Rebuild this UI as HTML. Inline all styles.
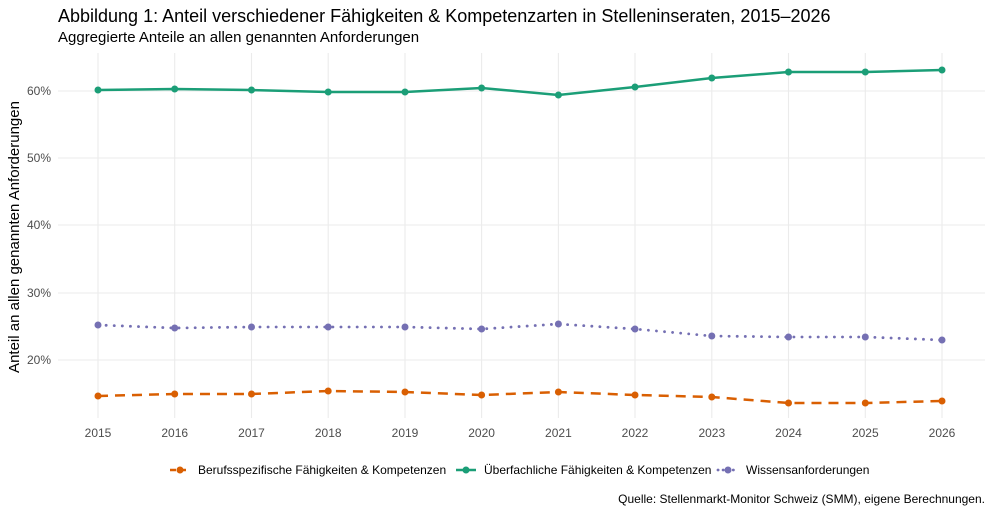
<!DOCTYPE html>
<html><head><meta charset="utf-8"><style>
body{margin:0;background:#fff;font-family:"Liberation Sans",sans-serif;}
</style></head><body>
<svg width="992" height="514" xmlns="http://www.w3.org/2000/svg" font-family="Liberation Sans, sans-serif">
<rect width="992" height="514" fill="#fff"/>
<text x="58" y="22" font-size="18" fill="#000">Abbildung 1: Anteil verschiedener Fähigkeiten &amp; Kompetenzarten in Stelleninseraten, 2015–2026</text>
<text x="58" y="42" font-size="15" fill="#000">Aggregierte Anteile an allen genannten Anforderungen</text>
<g stroke="#ebebeb" stroke-width="1.1">
<line x1="58" x2="985" y1="91" y2="91"/><line x1="58" x2="985" y1="158" y2="158"/>
<line x1="58" x2="985" y1="225" y2="225"/><line x1="58" x2="985" y1="293" y2="293"/>
<line x1="58" x2="985" y1="360" y2="360"/>
<line x1="98" x2="98" y1="53" y2="418"/><line x1="174.7" x2="174.7" y1="53" y2="418"/>
<line x1="251.5" x2="251.5" y1="53" y2="418"/><line x1="328.2" x2="328.2" y1="53" y2="418"/>
<line x1="405" x2="405" y1="53" y2="418"/><line x1="481.6" x2="481.6" y1="53" y2="418"/>
<line x1="558.4" x2="558.4" y1="53" y2="418"/><line x1="635" x2="635" y1="53" y2="418"/>
<line x1="711.8" x2="711.8" y1="53" y2="418"/><line x1="788.5" x2="788.5" y1="53" y2="418"/>
<line x1="865.3" x2="865.3" y1="53" y2="418"/><line x1="942" x2="942" y1="53" y2="418"/>
</g>
<g font-size="12" fill="#4d4d4d" text-anchor="end">
<text x="51" y="95">60%</text><text x="51" y="162">50%</text><text x="51" y="229">40%</text><text x="51" y="297">30%</text><text x="51" y="364">20%</text>
</g>
<g font-size="12" fill="#4d4d4d" text-anchor="middle">
<text x="98" y="437">2015</text><text x="174.7" y="437">2016</text><text x="251.5" y="437">2017</text><text x="328.2" y="437">2018</text><text x="405" y="437">2019</text><text x="481.6" y="437">2020</text><text x="558.4" y="437">2021</text><text x="635" y="437">2022</text><text x="711.8" y="437">2023</text><text x="788.5" y="437">2024</text><text x="865.3" y="437">2025</text><text x="942" y="437">2026</text>
</g>
<text transform="translate(19,237) rotate(-90)" font-size="15" text-anchor="middle" fill="#000">Anteil an allen genannten Anforderungen</text>
<polyline fill="none" stroke="#1b9e77" stroke-width="2.5" points="98,90 174.7,89 251.5,90 328.2,92 405,92 481.6,88 558.4,95 635,87 711.8,78 788.5,72 865.3,72 942,70"/>
<polyline fill="none" stroke="#7570b3" stroke-width="2.8" stroke-dasharray="0.1,8" stroke-linecap="round" points="98,325 174.7,328 251.5,327 328.2,327 405,327 481.6,329 558.4,324 635,329 711.8,336 788.5,337 865.3,337 942,340"/>
<polyline fill="none" stroke="#d95f02" stroke-width="2.5" stroke-dasharray="10,7" points="98,396 174.7,394 251.5,394 328.2,391 405,392 481.6,395 558.4,392 635,395 711.8,397 788.5,403 865.3,403 942,401"/>
<g fill="#1b9e77"><circle cx="98" cy="90" r="3.5"/><circle cx="174.7" cy="89" r="3.5"/><circle cx="251.5" cy="90" r="3.5"/><circle cx="328.2" cy="92" r="3.5"/><circle cx="405" cy="92" r="3.5"/><circle cx="481.6" cy="88" r="3.5"/><circle cx="558.4" cy="95" r="3.5"/><circle cx="635" cy="87" r="3.5"/><circle cx="711.8" cy="78" r="3.5"/><circle cx="788.5" cy="72" r="3.5"/><circle cx="865.3" cy="72" r="3.5"/><circle cx="942" cy="70" r="3.5"/></g>
<g fill="#7570b3"><circle cx="98" cy="325" r="3.5"/><circle cx="174.7" cy="328" r="3.5"/><circle cx="251.5" cy="327" r="3.5"/><circle cx="328.2" cy="327" r="3.5"/><circle cx="405" cy="327" r="3.5"/><circle cx="481.6" cy="329" r="3.5"/><circle cx="558.4" cy="324" r="3.5"/><circle cx="635" cy="329" r="3.5"/><circle cx="711.8" cy="336" r="3.5"/><circle cx="788.5" cy="337" r="3.5"/><circle cx="865.3" cy="337" r="3.5"/><circle cx="942" cy="340" r="3.5"/></g>
<g fill="#d95f02"><circle cx="98" cy="396" r="3.5"/><circle cx="174.7" cy="394" r="3.5"/><circle cx="251.5" cy="394" r="3.5"/><circle cx="328.2" cy="391" r="3.5"/><circle cx="405" cy="392" r="3.5"/><circle cx="481.6" cy="395" r="3.5"/><circle cx="558.4" cy="392" r="3.5"/><circle cx="635" cy="395" r="3.5"/><circle cx="711.8" cy="397" r="3.5"/><circle cx="788.5" cy="403" r="3.5"/><circle cx="865.3" cy="403" r="3.5"/><circle cx="942" cy="401" r="3.5"/></g>
<g font-size="12" fill="#000">
<line x1="170" x2="190" y1="470" y2="470" stroke="#d95f02" stroke-width="2.5" stroke-dasharray="6,4"/><circle cx="180" cy="470" r="3.5" fill="#d95f02"/>
<text x="198" y="474">Berufsspezifische Fähigkeiten &amp; Kompetenzen</text>
<line x1="456" x2="476" y1="470" y2="470" stroke="#1b9e77" stroke-width="2.5"/><circle cx="466" cy="470" r="3.5" fill="#1b9e77"/>
<text x="484" y="474">Überfachliche Fähigkeiten &amp; Kompetenzen</text>
<line x1="718" x2="738" y1="470" y2="470" stroke="#7570b3" stroke-width="2.8" stroke-dasharray="0.1,5" stroke-linecap="round"/><circle cx="728" cy="470" r="3.5" fill="#7570b3"/>
<text x="746" y="474">Wissensanforderungen</text>
</g>
<text x="985" y="503" font-size="12" text-anchor="end" fill="#000">Quelle: Stellenmarkt-Monitor Schweiz (SMM), eigene Berechnungen.</text>
</svg>
</body></html>
